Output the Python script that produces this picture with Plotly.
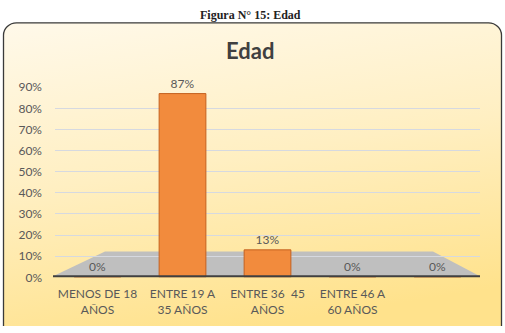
import base64
import plotly.graph_objects as go

# ---- data ----
categories = ["MENOS DE 18<br>AÑOS", "ENTRE 19 A<br>35 AÑOS", "ENTRE 36  45<br>AÑOS", "ENTRE 46 A<br>60 AÑOS", ""]
values = [0.0, 0.87, 0.13, 0.0, 0.0]
labels = ["0%", "87%", "13%", "0%", "0%"]
tick_vals = [0, 0.1, 0.2, 0.3, 0.4, 0.5, 0.6, 0.7, 0.8, 0.9]
tick_text = ["0%", "10%", "20%", "30%", "40%", "50%", "60%", "70%", "80%", "90%"]
title_text = "Edad"
caption_text = "Figura N° 15: Edad"

W, H = 505, 333
xpos = list(range(len(categories)))
FONT = "Lato, Open Sans, sans-serif"

svg = f'''<svg xmlns="http://www.w3.org/2000/svg" width="{W}" height="{H}" viewBox="0 0 {W} {H}" preserveAspectRatio="none">
<defs><linearGradient id="g" x1="0" y1="0" x2="0.25" y2="1">
<stop offset="0" stop-color="#FFF9EA"/><stop offset="0.5" stop-color="#FFEFC2"/><stop offset="1" stop-color="#FFE28C"/>
</linearGradient></defs>
<rect x="3.5" y="15.5" width="498" height="340" rx="13" ry="13" fill="url(#g)" stroke="#3a3a3a" stroke-width="1.3"/>
</svg>'''
src = "data:image/svg+xml;base64," + base64.b64encode(svg.encode()).decode()

fig = go.Figure()
fig.add_trace(go.Bar(
    x=xpos, y=values, width=0.55,
    marker=dict(color="#F28B3D", line=dict(color="#C4611F", width=1)),
    text=labels, textposition="outside", cliponaxis=False,
    textfont=dict(family=FONT, size=12, color="#595959"),
    showlegend=False,
))

x0 = 55 / W
x1 = 480 / W
y0 = (H - 282) / H
y1 = (H - 83) / H

fig.update_layout(
    width=W, height=H,
    margin=dict(l=0, r=0, t=0, b=0),
    paper_bgcolor="white",
    plot_bgcolor="rgba(0,0,0,0)",
    images=[dict(source=src, xref="paper", yref="paper", x=0, y=1, sizex=1, sizey=1,
                 xanchor="left", yanchor="top", sizing="stretch", layer="below")],
    xaxis=dict(domain=[x0, x1], range=[-0.5, 4.5], tickvals=xpos, ticktext=categories,
               showgrid=False, zeroline=False, showline=False, ticks="", ticklabelstandoff=8,
               tickfont=dict(family=FONT, size=12, color="#595959")),
    yaxis=dict(domain=[y0, y1], range=[0, 0.9], tickvals=tick_vals, ticktext=tick_text,
               showgrid=True, gridcolor="#D6D9E0", gridwidth=1, zeroline=False, showline=False,
               ticks="", ticklabelstandoff=12,
               tickfont=dict(family=FONT, size=12, color="#595959")),
    shapes=[
        dict(type="path", xref="paper", yref="paper", layer="below",
             path=f"M {53/W} {(H-281)/H} L {480/W} {(H-281)/H} L {433/W} {(H-255)/H} L {105/W} {(H-255)/H} Z",
             fillcolor="#BFBFBF", line=dict(width=0)),
        dict(type="line", xref="paper", yref="paper", x0=53 / W, x1=480 / W,
             y0=(H - 281) / H, y1=(H - 281) / H, line=dict(color="#404040", width=2)),
    ],
    annotations=[
        dict(text=f"<b>{title_text}</b>", xref="paper", yref="paper", x=250 / W, y=(H - 45) / H,
             xanchor="center", yanchor="middle", showarrow=False,
             font=dict(family=FONT, size=22, color="#404040")),
        dict(text=f"<b>{caption_text}</b>", xref="paper", yref="paper", x=250 / W, y=(H - 7) / H,
             xanchor="center", yanchor="middle", showarrow=False,
             font=dict(family="Liberation Serif, serif", size=12, color="#222222")),
    ],
)

fig.write_html("out.html")
